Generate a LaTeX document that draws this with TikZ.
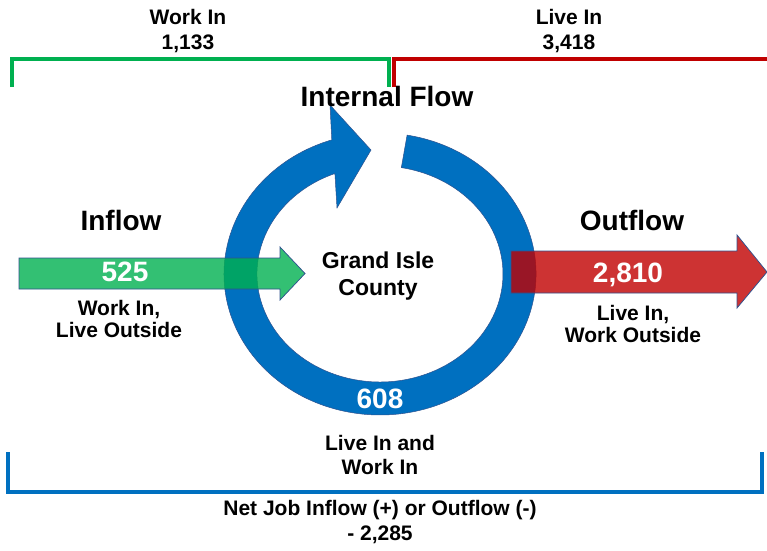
\documentclass[tikz,border=0pt]{standalone}
\usepackage{fontspec}
\setmainfont{Liberation Sans}
\definecolor{ringblue}{RGB}{0,112,192}
\definecolor{edgeblue}{RGB}{47,82,143}
\definecolor{ingreen}{RGB}{0,176,80}
\definecolor{outred}{RGB}{192,0,0}
\begin{document}
\begin{tikzpicture}[x=1pt,y=-1pt,
  lbl/.style={font=\bfseries\fontsize{21}{#1}\selectfont, align=center, inner sep=0pt},
  lbl/.default=25,
  head/.style={font=\bfseries\fontsize{28}{32}\selectfont, inner sep=0pt},
  num/.style={font=\bfseries\fontsize{28}{32}\selectfont, text=white, inner sep=0pt},
  bracket/.style={line width=4.5pt}]
  \useasboundingbox (0,0) rectangle (767,550);
  % brackets
  \draw[bracket, ingreen] (12,87) -- (12,59) -- (389,59) -- (389,87);
  \draw[bracket, outred] (394,87) -- (394,59) -- (767,59);
  \draw[bracket, ringblue] (8,452) -- (8,492) -- (762,492) -- (762,452);
  % internal flow ring
  \coordinate (ctr) at (380,274);
  \fill[ringblue, draw=edgeblue, line width=0.5pt] (407.1,135.1)
    arc[start angle=-80, end angle=252, x radius=156, y radius=141]
    -- (330,105) -- (371,150) -- (337,208) -- (334.9,173.5)
    arc[start angle=248.5, end angle=-80, x radius=123, y radius=108] -- cycle;
  % inflow and outflow arrows
  \fill[ingreen, fill opacity=0.8, draw=edgeblue, line width=0.75pt]
    (19,258) -- (280,258) -- (280,247) -- (305,273.5) -- (280,300) -- (280,289) -- (19,289) -- cycle;
  \fill[outred, fill opacity=0.8, draw=edgeblue, line width=0.75pt]
    (511,251) -- (737,251) -- (737,235) -- (767,272) -- (737,308) -- (737,293) -- (511,293) -- cycle;
  % texts
  \node[lbl] (workin) at (188,31) {Work In\\1,133};
  \node[lbl] (livein) at (569,31) {Live In\\3,418};
  \node[head] (internal) at (387,96) {Internal Flow};
  \node[head] (inflowlbl) at (121,220) {Inflow};
  \node[head] (outflowlbl) at (632,220) {Outflow};
  \node[num] (inval) at (125,272) {525};
  \node[num] (outval) at (628,275) {2,810};
  \node[num] (ownval) at (380,399) {608};
  \node[lbl, font=\bfseries\fontsize{23}{27}\selectfont] (county) at (378,276) {Grand Isle\\County};
  \node[lbl=22] (inlbl) at (119,319) {Work In,\\Live Outside};
  \node[lbl=22] (outlbl) at (633,324) {Live In,\\Work Outside};
  \node[lbl=24] (bothlbl) at (380,455) {Live In and\\Work In};
  \node[lbl] (netlbl) at (380,522) {Net Job Inflow (+) or Outflow (-)\\- 2,285};
\end{tikzpicture}
\end{document}
